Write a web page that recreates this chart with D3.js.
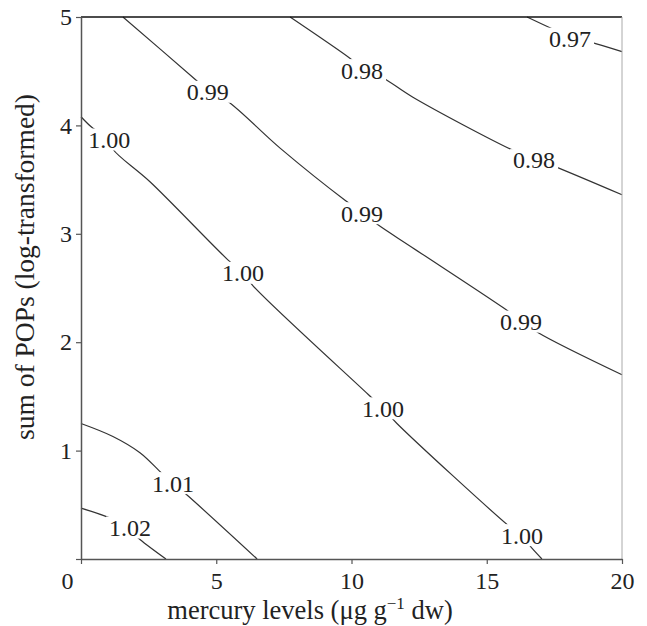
<!DOCTYPE html>
<html><head><meta charset="utf-8">
<script src="https://cdn.jsdelivr.net/npm/d3@7"></script>
<style>body{margin:0;background:#fff}</style>
</head><body><svg id="c" width="647" height="626"></svg>
<script>
// ---- data ----
const xTicks = [0, 5, 10, 15, 20];
const xTickLabels = ["0", "5", "10", "15", "20"];
const yTicks = [0, 1, 2, 3, 4, 5];
const yTickLabels = ["", "1", "2", "3", "4", "5"];
const xTitle = "mercury levels (μg g";
const yTitle = "sum of POPs (log-transformed)";

const line097 = [[16.49,5.0],[17.52,4.88],[18.08,4.82],[18.82,4.77],[20,4.68]];
const line098 = [[7.73,5.0],[9.94,4.62],[10.39,4.53],[11.16,4.44],[12.27,4.26],[15.97,3.77],[16.75,3.69],[17.52,3.62],[20,3.36]];
const line099 = [[1.55,5.0],[4.29,4.41],[4.69,4.32],[5.43,4.22],[7.36,3.79],[9.76,3.31],[10.39,3.20],[10.94,3.09],[12.27,2.87],[15.60,2.32],[16.27,2.20],[16.89,2.09],[20,1.70]];
const line100 = [[0,4.08],[0.41,3.98],[1.04,3.87],[1.18,3.78],[2.55,3.48],[5.43,2.76],[5.99,2.64],[6.36,2.52],[10.61,1.52],[11.16,1.39],[11.68,1.25],[15.79,0.31],[16.30,0.21],[16.67,0.10],[17.04,0]];
const line101 = [[0,1.25],[1.18,1.13],[2.18,0.98],[2.99,0.79],[3.44,0.69],[3.92,0.59],[6.51,0]];
const line102 = [[0,0.47],[1.15,0.37],[1.70,0.29],[2.18,0.18],[3.14,0]];

const contourLines = [line097, line098, line099, line100, line101, line102];

const labelText = ["0.97","0.98","0.98","0.99","0.99","0.99","1.00","1.00","1.00","1.00","1.01","1.02"];
const labelX    = [18.08, 10.39, 16.75, 4.69, 10.39, 16.27, 1.04, 5.99, 11.16, 16.30, 3.40, 1.81];
const labelY    = [4.80, 4.51, 3.68, 4.31, 3.19, 2.19, 3.87, 2.64, 1.39, 0.22, 0.70, 0.29];

// ---- drawing ----
const svg = d3.select("#c");
svg.append("rect").attr("width",647).attr("height",626).attr("fill","#fff");
const FONT = "'Liberation Serif','Times New Roman',serif";
const x = d3.scaleLinear().domain([0,20]).range([81,622]);
const y = d3.scaleLinear().domain([0,5]).range([559,17]);

const line = d3.line().x(d=>x(d[0])).y(d=>y(d[1])).curve(d3.curveCatmullRom);
svg.append("g").selectAll("path").data(contourLines).join("path")
  .attr("d", line).attr("fill","none").attr("stroke","#333").attr("stroke-width",1.2);

const lg = svg.append("g").selectAll("g").data(labelText.map((t,i)=>({t, x:labelX[i], y:labelY[i]}))).join("g")
  .attr("transform", d=>`translate(${x(d.x)},${y(d.y)})`);
lg.append("rect").attr("x",-24).attr("y",-11).attr("width",48).attr("height",22).attr("fill","#fff");
lg.append("text").text(d=>d.t).attr("text-anchor","middle").attr("dy","0.35em")
  .attr("font-family",FONT).attr("font-size",24).attr("fill","#222");

// frame
svg.append("line").attr("x1",81).attr("x2",622).attr("y1",17).attr("y2",17).attr("stroke","#111").attr("stroke-width",1.6);
svg.append("line").attr("x1",622).attr("x2",622).attr("y1",17).attr("y2",559).attr("stroke","#aaa").attr("stroke-width",1);

const ax = svg.append("g").attr("transform","translate(0,559)")
  .call(d3.axisBottom(x).tickValues(xTicks).tickFormat((d,i)=>xTickLabels[i]).tickSize(5).tickSizeOuter(0));
const ay = svg.append("g").attr("transform","translate(81,0)")
  .call(d3.axisLeft(y).tickValues(yTicks).tickFormat((d,i)=>yTickLabels[i]).tickSize(5).tickSizeOuter(0));
[ax, ay].forEach(g=>{
  g.select(".domain").attr("stroke","#555").attr("stroke-width",1.5);
  g.selectAll(".tick line").attr("stroke","#555").attr("stroke-width",1.2);
  g.selectAll(".tick text").attr("font-family",FONT).attr("font-size",24).attr("fill","#222");
});
ax.selectAll(".tick text").attr("y",13).attr("dy","0.71em");
ax.selectAll(".tick text").filter(d=>d===0).attr("dx",-14);
ay.selectAll(".tick text").attr("x",-9);

// titles
const xt = svg.append("text").attr("x",310).attr("y",619).attr("text-anchor","middle")
  .attr("font-family",FONT).attr("font-size",26.5).attr("fill","#222");
xt.append("tspan").text(xTitle);
xt.append("tspan").text("−1").attr("font-size",17).attr("dy",-10);
xt.append("tspan").text(" dw)").attr("dy",10);

svg.append("text").attr("transform","translate(34,267) rotate(-90)").attr("text-anchor","middle")
  .attr("font-family",FONT).attr("font-size",27.5).attr("fill","#222").text(yTitle);
</script></body></html>
